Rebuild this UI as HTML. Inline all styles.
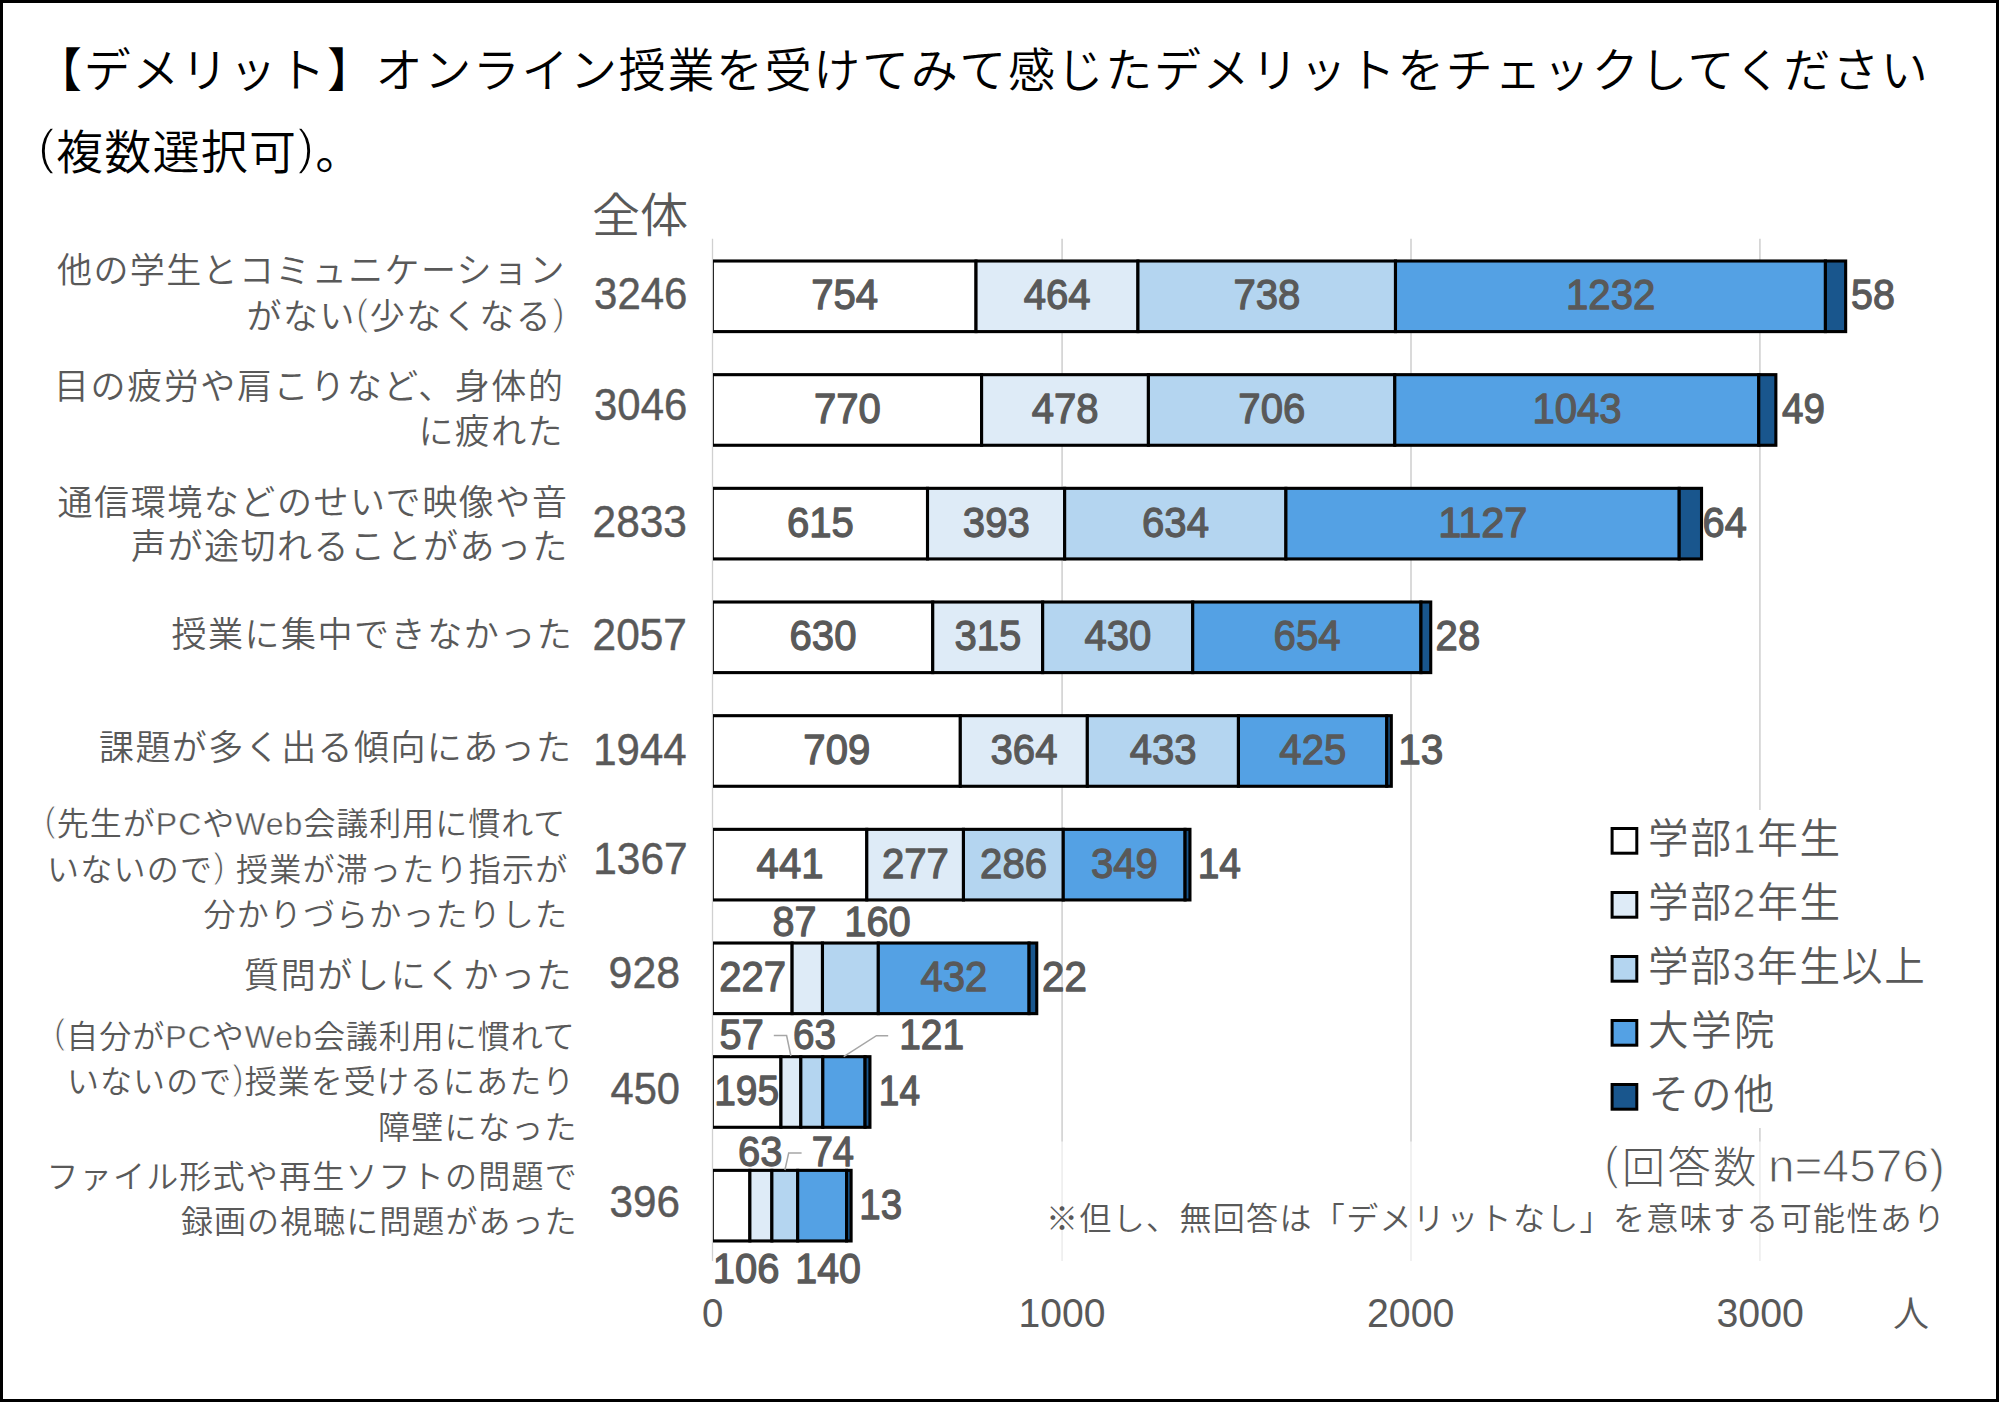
<!DOCTYPE html>
<html lang="ja"><head><meta charset="utf-8"><title>オンライン授業のデメリット</title>
<style>
html,body{margin:0;padding:0;background:#fff;overflow:hidden}
svg{display:block}
text{font-family:'Liberation Sans','Noto Sans CJK JP',sans-serif;white-space:pre}
.dl{stroke:#595959;stroke-width:1.3px;stroke-linejoin:round}
</style></head>
<body>
<svg width="1999" height="1403" viewBox="0 0 1999 1403">
<rect x="0" y="0" width="1999" height="1403" fill="#fff"/>
<rect x="1.5" y="1.5" width="1996" height="1399" fill="none" stroke="#000" stroke-width="3"/>
<g stroke="#D6D6D6" stroke-width="1.8">
<line x1="1062.1" y1="238.8" x2="1062.1" y2="1261"/>
<line x1="1411.0" y1="238.8" x2="1411.0" y2="1261"/>
<line x1="1759.9" y1="238.8" x2="1759.9" y2="1261"/>
</g>
<rect x="1600" y="810" width="340" height="318" fill="#fff"/>
<rect x="1040" y="1141.5" width="915" height="122" fill="#fff" fill-opacity="0.62"/>
<defs><clipPath id="plot"><rect x="713.1" y="230" width="1280" height="1040"/></clipPath></defs>
<line x1="712.5" y1="238.8" x2="712.5" y2="1261" stroke="#D0D0D0" stroke-width="1.3"/>
<g stroke="#000" stroke-width="3.1" stroke-linejoin="miter" clip-path="url(#plot)">
<rect x="712.30" y="261.00" width="263.72" height="70.60" fill="#FFFFFF"/>
<rect x="976.02" y="261.00" width="161.92" height="70.60" fill="#DEEBF7"/>
<rect x="1137.95" y="261.00" width="257.54" height="70.60" fill="#B4D5F0"/>
<rect x="1395.49" y="261.00" width="429.93" height="70.60" fill="#54A1E4"/>
<rect x="1825.42" y="261.00" width="20.24" height="70.60" fill="#19568D"/>
<rect x="712.30" y="374.67" width="269.31" height="70.60" fill="#FFFFFF"/>
<rect x="981.61" y="374.67" width="166.81" height="70.60" fill="#DEEBF7"/>
<rect x="1148.41" y="374.67" width="246.37" height="70.60" fill="#B4D5F0"/>
<rect x="1394.79" y="374.67" width="363.98" height="70.60" fill="#54A1E4"/>
<rect x="1758.76" y="374.67" width="17.10" height="70.60" fill="#19568D"/>
<rect x="712.30" y="488.34" width="215.22" height="70.60" fill="#FFFFFF"/>
<rect x="927.52" y="488.34" width="137.15" height="70.60" fill="#DEEBF7"/>
<rect x="1064.66" y="488.34" width="221.25" height="70.60" fill="#B4D5F0"/>
<rect x="1285.91" y="488.34" width="393.29" height="70.60" fill="#54A1E4"/>
<rect x="1679.20" y="488.34" width="22.33" height="70.60" fill="#19568D"/>
<rect x="712.30" y="602.01" width="220.45" height="70.60" fill="#FFFFFF"/>
<rect x="932.75" y="602.01" width="109.93" height="70.60" fill="#DEEBF7"/>
<rect x="1042.68" y="602.01" width="150.06" height="70.60" fill="#B4D5F0"/>
<rect x="1192.73" y="602.01" width="228.23" height="70.60" fill="#54A1E4"/>
<rect x="1420.96" y="602.01" width="9.77" height="70.60" fill="#19568D"/>
<rect x="712.30" y="715.68" width="248.02" height="70.60" fill="#FFFFFF"/>
<rect x="960.32" y="715.68" width="127.03" height="70.60" fill="#DEEBF7"/>
<rect x="1087.34" y="715.68" width="151.10" height="70.60" fill="#B4D5F0"/>
<rect x="1238.45" y="715.68" width="148.31" height="70.60" fill="#54A1E4"/>
<rect x="1386.76" y="715.68" width="4.54" height="70.60" fill="#19568D"/>
<rect x="712.30" y="829.35" width="154.50" height="70.60" fill="#FFFFFF"/>
<rect x="866.80" y="829.35" width="96.66" height="70.60" fill="#DEEBF7"/>
<rect x="963.46" y="829.35" width="99.81" height="70.60" fill="#B4D5F0"/>
<rect x="1063.27" y="829.35" width="121.79" height="70.60" fill="#54A1E4"/>
<rect x="1185.06" y="829.35" width="4.89" height="70.60" fill="#19568D"/>
<rect x="712.30" y="943.02" width="79.82" height="70.60" fill="#FFFFFF"/>
<rect x="792.12" y="943.02" width="30.36" height="70.60" fill="#DEEBF7"/>
<rect x="822.48" y="943.02" width="55.84" height="70.60" fill="#B4D5F0"/>
<rect x="878.31" y="943.02" width="150.76" height="70.60" fill="#54A1E4"/>
<rect x="1029.07" y="943.02" width="7.68" height="70.60" fill="#19568D"/>
<rect x="712.30" y="1056.69" width="68.65" height="70.60" fill="#FFFFFF"/>
<rect x="780.95" y="1056.69" width="19.89" height="70.60" fill="#DEEBF7"/>
<rect x="800.84" y="1056.69" width="21.99" height="70.60" fill="#B4D5F0"/>
<rect x="822.83" y="1056.69" width="42.23" height="70.60" fill="#54A1E4"/>
<rect x="865.05" y="1056.69" width="4.89" height="70.60" fill="#19568D"/>
<rect x="712.30" y="1170.36" width="37.59" height="70.60" fill="#FFFFFF"/>
<rect x="749.89" y="1170.36" width="21.99" height="70.60" fill="#DEEBF7"/>
<rect x="771.88" y="1170.36" width="25.82" height="70.60" fill="#B4D5F0"/>
<rect x="797.70" y="1170.36" width="48.86" height="70.60" fill="#54A1E4"/>
<rect x="846.56" y="1170.36" width="4.54" height="70.60" fill="#19568D"/>
</g>
<g stroke="#000" stroke-width="3">
<rect x="1612.1" y="828.5" width="24.7" height="24.7" fill="#FFFFFF"/>
<rect x="1612.1" y="892.5" width="24.7" height="24.7" fill="#DEEBF7"/>
<rect x="1612.1" y="956.5" width="24.7" height="24.7" fill="#B4D5F0"/>
<rect x="1612.1" y="1020.5" width="24.7" height="24.7" fill="#54A1E4"/>
<rect x="1612.1" y="1084.5" width="24.7" height="24.7" fill="#19568D"/>
</g>
<g fill="none" stroke="#A6A6A6" stroke-width="1.5">
<polyline points="773.8,1035.5 786.6,1035.5 790.9,1056"/>
<polyline points="888.2,1035.7 876.4,1035.7 843.7,1056.7"/>
<polyline points="801.6,1152.9 788.7,1152.9 784.9,1170"/>
</g>
<text id="t1" font-size="47" fill="#000" font-weight="350" x="35.00" y="86.86" textLength="1892.79" lengthAdjust="spacing">【デメリット】オンライン授業を受けてみて感じたデメリットをチェックしてください</text>
<text id="t2" font-size="47" fill="#000" font-weight="350" x="38.00" y="168.66" textLength="324.19" lengthAdjust="spacing"><tspan font-size="50.3" dy="-4.9" stroke="#fff" stroke-width="1.5">(</tspan><tspan dy="4.9">複数選択可</tspan><tspan font-size="50.3" dy="-4.9" stroke="#fff" stroke-width="1.5">)</tspan><tspan dy="4.9">。</tspan></text>
<text id="hd" font-size="47" fill="#595959" font-weight="350" x="591.95" y="232.16" textLength="96.28" lengthAdjust="spacingAndGlyphs">全体</text>
<text id="tot0" font-size="45.2" fill="#595959" stroke="#595959" stroke-width="0.45" x="594.07" y="308.59" textLength="93.35" lengthAdjust="spacingAndGlyphs">3246</text>
<text id="tot1" font-size="45.2" fill="#595959" stroke="#595959" stroke-width="0.45" x="594.07" y="420.09" textLength="93.15" lengthAdjust="spacingAndGlyphs">3046</text>
<text id="tot2" font-size="45.2" fill="#595959" stroke="#595959" stroke-width="0.45" x="592.59" y="537.09" textLength="94.39" lengthAdjust="spacingAndGlyphs">2833</text>
<text id="tot3" font-size="45.2" fill="#595959" stroke="#595959" stroke-width="0.45" x="592.59" y="650.09" textLength="94.31" lengthAdjust="spacingAndGlyphs">2057</text>
<text id="tot4" font-size="45.2" fill="#595959" stroke="#595959" stroke-width="0.45" x="593.25" y="765.09" textLength="93.41" lengthAdjust="spacingAndGlyphs">1944</text>
<text id="tot5" font-size="45.2" fill="#595959" stroke="#595959" stroke-width="0.45" x="593.22" y="874.09" textLength="94.40" lengthAdjust="spacingAndGlyphs">1367</text>
<text id="tot6" font-size="45.2" fill="#595959" stroke="#595959" stroke-width="0.45" x="608.55" y="987.59" textLength="71.51" lengthAdjust="spacingAndGlyphs">928</text>
<text id="tot7" font-size="45.2" fill="#595959" stroke="#595959" stroke-width="0.45" x="610.52" y="1104.09" textLength="69.50" lengthAdjust="spacingAndGlyphs">450</text>
<text id="tot8" font-size="45.2" fill="#595959" stroke="#595959" stroke-width="0.45" x="609.58" y="1216.59" textLength="70.45" lengthAdjust="spacingAndGlyphs">396</text>
<text id="cat0" font-size="35" fill="#595959" font-weight="350" x="57.00" y="283.00" textLength="507.40" lengthAdjust="spacing">他の学生とコミュニケーション</text>
<text id="cat1" font-size="35" fill="#595959" font-weight="350" x="246.50" y="329.00" textLength="318.14" lengthAdjust="spacing">がない<tspan font-size="37.5" dy="-3.7" stroke="#fff" stroke-width="1.12">(</tspan><tspan dy="3.7">少なくなる</tspan><tspan font-size="37.5" dy="-3.7" stroke="#fff" stroke-width="1.12">)</tspan></text>
<text id="cat2" font-size="35" fill="#595959" font-weight="350" x="54.00" y="399.30" textLength="508.94" lengthAdjust="spacing">目の疲労や肩こりなど、身体的</text>
<text id="cat3" font-size="35" fill="#595959" font-weight="350" x="418.50" y="444.30" textLength="144.02" lengthAdjust="spacing">に疲れた</text>
<text id="cat4" font-size="35" fill="#595959" font-weight="350" x="57.50" y="515.30" textLength="509.41" lengthAdjust="spacing">通信環境などのせいで映像や音</text>
<text id="cat5" font-size="35" fill="#595959" font-weight="350" x="131.00" y="559.30" textLength="436.38" lengthAdjust="spacing">声が途切れることがあった</text>
<text id="cat6" font-size="35" fill="#595959" font-weight="350" x="171.50" y="646.60" textLength="400.20" lengthAdjust="spacing">授業に集中できなかった</text>
<text id="cat7" font-size="35" fill="#595959" font-weight="350" x="99.00" y="760.30" textLength="472.13" lengthAdjust="spacing">課題が多く出る傾向にあった</text>
<text id="cat8" font-size="32" fill="#595959" font-weight="350" x="44.50" y="834.96" textLength="520.87" lengthAdjust="spacing"><tspan font-size="34.2" dy="-3.4" stroke="#fff" stroke-width="1.02">(</tspan><tspan dy="3.4">先生が</tspan><tspan stroke="#fff" stroke-width="0.35">PC</tspan>や<tspan stroke="#fff" stroke-width="0.35">Web</tspan>会議利用に慣れて</text>
<text id="cat9" font-size="32" fill="#595959" font-weight="350" x="47.00" y="881.26" textLength="520.29" lengthAdjust="spacing">いないので<tspan font-size="34.2" dy="-3.4" stroke="#fff" stroke-width="1.02">)</tspan><tspan dy="3.4"> 授業が滞ったり指示が</tspan></text>
<text id="cat10" font-size="32" fill="#595959" font-weight="350" x="203.50" y="926.46" textLength="363.46" lengthAdjust="spacing">分かりづらかったりした</text>
<text id="cat11" font-size="35" fill="#595959" font-weight="350" x="244.00" y="988.00" textLength="327.59" lengthAdjust="spacing">質問がしにくかった</text>
<text id="cat12" font-size="32" fill="#595959" font-weight="350" x="54.00" y="1047.66" textLength="520.87" lengthAdjust="spacing"><tspan font-size="34.2" dy="-3.4" stroke="#fff" stroke-width="1.02">(</tspan><tspan dy="3.4">自分が</tspan><tspan stroke="#fff" stroke-width="0.35">PC</tspan>や<tspan stroke="#fff" stroke-width="0.35">Web</tspan>会議利用に慣れて</text>
<text id="cat13" font-size="32" fill="#595959" font-weight="350" x="67.00" y="1093.46" textLength="507.21" lengthAdjust="spacing">いないので<tspan font-size="34.2" dy="-3.4" stroke="#fff" stroke-width="1.02">)</tspan><tspan dy="3.4">授業を受けるにあたり</tspan></text>
<text id="cat14" font-size="32" fill="#595959" font-weight="350" x="378.00" y="1139.16" textLength="198.50" lengthAdjust="spacing">障壁になった</text>
<text id="cat15" font-size="32" fill="#595959" font-weight="350" x="46.50" y="1188.46" textLength="530.15" lengthAdjust="spacing">ファイル形式や再生ソフトの問題で</text>
<text id="cat16" font-size="32" fill="#595959" font-weight="350" x="181.00" y="1232.76" textLength="395.58" lengthAdjust="spacing">録画の視聴に問題があった</text>
<text id="leg0" font-size="40.6" fill="#595959" font-weight="350" x="1648.00" y="853.03" textLength="192.14" lengthAdjust="spacing">学部<tspan stroke="#fff" stroke-width="0.45">1</tspan>年生</text>
<text id="leg1" font-size="40.6" fill="#595959" font-weight="350" x="1648.00" y="916.93" textLength="192.14" lengthAdjust="spacing">学部<tspan stroke="#fff" stroke-width="0.45">2</tspan>年生</text>
<text id="leg2" font-size="40.6" fill="#595959" font-weight="350" x="1648.00" y="980.93" textLength="276.78" lengthAdjust="spacing">学部<tspan stroke="#fff" stroke-width="0.45">3</tspan>年生以上</text>
<text id="leg3" font-size="40.6" fill="#595959" font-weight="350" x="1648.00" y="1044.93" textLength="126.53" lengthAdjust="spacing">大学院</text>
<text id="leg4" font-size="40.6" fill="#595959" font-weight="350" x="1648.50" y="1108.83" textLength="125.63" lengthAdjust="spacing">その他</text>
<text id="n1a" font-size="43" fill="#595959" font-weight="300" x="1604.00" y="1183.34" textLength="152.33" lengthAdjust="spacing"><tspan font-size="46.0" dy="-4.5" stroke="#fff" stroke-width="1.38">(</tspan><tspan dy="4.5">回答数</tspan></text>
<text id="n1b" font-size="47" fill="#595959" stroke="#fff" stroke-width="1.1" x="1767.92" y="1182.20" textLength="177.15" lengthAdjust="spacingAndGlyphs">n=4576)</text>
<text id="n2" font-size="32" fill="#595959" font-weight="350" x="1046.00" y="1229.66" textLength="899.12" lengthAdjust="spacing">※但し、無回答は「デメリットなし」を意味する可能性あり</text>
<text id="ax0" font-size="40" fill="#595959" x="702.04" y="1326.80" textLength="21.33" lengthAdjust="spacingAndGlyphs">0</text>
<text id="ax1" font-size="40" fill="#595959" x="1018.56" y="1326.80" textLength="86.90" lengthAdjust="spacingAndGlyphs">1000</text>
<text id="ax2" font-size="40" fill="#595959" x="1367.03" y="1326.80" textLength="87.33" lengthAdjust="spacingAndGlyphs">2000</text>
<text id="ax3" font-size="40" fill="#595959" x="1716.52" y="1326.80" textLength="87.33" lengthAdjust="spacingAndGlyphs">3000</text>
<text id="axu" font-size="36" fill="#595959" font-weight="350" x="1893.00" y="1326.68">人</text>
<text id="d0_0" font-size="43.3" fill="#595959" class="dl" x="844.66" y="308.94" text-anchor="middle" textLength="66.90" lengthAdjust="spacingAndGlyphs">754</text>
<text id="d0_1" font-size="43.3" fill="#595959" class="dl" x="1057.18" y="308.94" text-anchor="middle" textLength="66.90" lengthAdjust="spacingAndGlyphs">464</text>
<text id="d0_2" font-size="43.3" fill="#595959" class="dl" x="1266.92" y="308.94" text-anchor="middle" textLength="66.90" lengthAdjust="spacingAndGlyphs">738</text>
<text id="d0_3" font-size="43.3" fill="#595959" class="dl" x="1610.65" y="308.94" text-anchor="middle" textLength="89.20" lengthAdjust="spacingAndGlyphs">1232</text>
<text id="d0_4" font-size="43.3" fill="#595959" class="dl" x="1851.09" y="308.94" textLength="43.81" lengthAdjust="spacingAndGlyphs">58</text>
<text id="d1_0" font-size="43.3" fill="#595959" class="dl" x="847.45" y="423.29" text-anchor="middle" textLength="66.90" lengthAdjust="spacingAndGlyphs">770</text>
<text id="d1_1" font-size="43.3" fill="#595959" class="dl" x="1065.21" y="423.29" text-anchor="middle" textLength="66.90" lengthAdjust="spacingAndGlyphs">478</text>
<text id="d1_2" font-size="43.3" fill="#595959" class="dl" x="1271.80" y="423.29" text-anchor="middle" textLength="66.90" lengthAdjust="spacingAndGlyphs">706</text>
<text id="d1_3" font-size="43.3" fill="#595959" class="dl" x="1576.98" y="423.29" text-anchor="middle" textLength="89.20" lengthAdjust="spacingAndGlyphs">1043</text>
<text id="d1_4" font-size="43.3" fill="#595959" class="dl" x="1782.00" y="423.29" textLength="42.85" lengthAdjust="spacingAndGlyphs">49</text>
<text id="d2_0" font-size="43.3" fill="#595959" class="dl" x="820.41" y="536.64" text-anchor="middle" textLength="66.90" lengthAdjust="spacingAndGlyphs">615</text>
<text id="d2_1" font-size="43.3" fill="#595959" class="dl" x="996.29" y="536.64" text-anchor="middle" textLength="66.90" lengthAdjust="spacingAndGlyphs">393</text>
<text id="d2_2" font-size="43.3" fill="#595959" class="dl" x="1175.49" y="536.64" text-anchor="middle" textLength="66.90" lengthAdjust="spacingAndGlyphs">634</text>
<text id="d2_3" font-size="43.3" fill="#595959" class="dl" x="1482.75" y="536.64" text-anchor="middle" textLength="89.20" lengthAdjust="spacingAndGlyphs">1127</text>
<text id="d2_4" font-size="43.3" fill="#595959" class="dl" x="1702.61" y="536.64" textLength="44.20" lengthAdjust="spacingAndGlyphs">64</text>
<text id="d3_0" font-size="43.3" fill="#595959" class="dl" x="823.03" y="649.99" text-anchor="middle" textLength="66.90" lengthAdjust="spacingAndGlyphs">630</text>
<text id="d3_1" font-size="43.3" fill="#595959" class="dl" x="987.91" y="649.99" text-anchor="middle" textLength="66.90" lengthAdjust="spacingAndGlyphs">315</text>
<text id="d3_2" font-size="43.3" fill="#595959" class="dl" x="1117.91" y="649.99" text-anchor="middle" textLength="66.90" lengthAdjust="spacingAndGlyphs">430</text>
<text id="d3_3" font-size="43.3" fill="#595959" class="dl" x="1307.05" y="649.99" text-anchor="middle" textLength="66.90" lengthAdjust="spacingAndGlyphs">654</text>
<text id="d3_4" font-size="43.3" fill="#595959" class="dl" x="1435.62" y="649.99" textLength="44.57" lengthAdjust="spacingAndGlyphs">28</text>
<text id="d4_0" font-size="43.3" fill="#595959" class="dl" x="836.81" y="764.34" text-anchor="middle" textLength="66.90" lengthAdjust="spacingAndGlyphs">709</text>
<text id="d4_1" font-size="43.3" fill="#595959" class="dl" x="1024.03" y="764.34" text-anchor="middle" textLength="66.90" lengthAdjust="spacingAndGlyphs">364</text>
<text id="d4_2" font-size="43.3" fill="#595959" class="dl" x="1163.10" y="764.34" text-anchor="middle" textLength="66.90" lengthAdjust="spacingAndGlyphs">433</text>
<text id="d4_3" font-size="43.3" fill="#595959" class="dl" x="1312.80" y="764.34" text-anchor="middle" textLength="66.90" lengthAdjust="spacingAndGlyphs">425</text>
<text id="d4_4" font-size="43.3" fill="#595959" class="dl" x="1398.17" y="764.34" textLength="45.14" lengthAdjust="spacingAndGlyphs">13</text>
<text id="d5_0" font-size="43.3" fill="#595959" class="dl" x="790.05" y="877.69" text-anchor="middle" textLength="66.90" lengthAdjust="spacingAndGlyphs">441</text>
<text id="d5_1" font-size="43.3" fill="#595959" class="dl" x="915.33" y="877.69" text-anchor="middle" textLength="66.90" lengthAdjust="spacingAndGlyphs">277</text>
<text id="d5_2" font-size="43.3" fill="#595959" class="dl" x="1013.56" y="877.69" text-anchor="middle" textLength="66.90" lengthAdjust="spacingAndGlyphs">286</text>
<text id="d5_3" font-size="43.3" fill="#595959" class="dl" x="1124.36" y="877.69" text-anchor="middle" textLength="66.90" lengthAdjust="spacingAndGlyphs">349</text>
<text id="d5_4" font-size="43.3" fill="#595959" class="dl" x="1197.74" y="877.69" textLength="43.26" lengthAdjust="spacingAndGlyphs">14</text>
<text id="d6_0" font-size="43.3" fill="#595959" class="dl" x="752.71" y="991.04" text-anchor="middle" textLength="66.90" lengthAdjust="spacingAndGlyphs">227</text>
<text id="d6_1" font-size="43.3" fill="#595959" class="dl" x="772.62" y="936.44" textLength="43.90" lengthAdjust="spacingAndGlyphs">87</text>
<text id="d6_2" font-size="43.3" fill="#595959" class="dl" x="844.22" y="936.44" textLength="66.54" lengthAdjust="spacingAndGlyphs">160</text>
<text id="d6_3" font-size="43.3" fill="#595959" class="dl" x="953.89" y="991.04" text-anchor="middle" textLength="66.90" lengthAdjust="spacingAndGlyphs">432</text>
<text id="d6_4" font-size="43.3" fill="#595959" class="dl" x="1042.07" y="991.04" textLength="44.83" lengthAdjust="spacingAndGlyphs">22</text>
<text id="d7_0" font-size="43.3" fill="#595959" class="dl" x="714.20" y="1105.44" textLength="64.92" lengthAdjust="spacingAndGlyphs">195</text>
<text id="d7_1" font-size="43.3" fill="#595959" class="dl" x="719.59" y="1048.94" textLength="44.14" lengthAdjust="spacingAndGlyphs">57</text>
<text id="d7_2" font-size="43.3" fill="#595959" class="dl" x="793.11" y="1048.94" textLength="42.94" lengthAdjust="spacingAndGlyphs">63</text>
<text id="d7_3" font-size="43.3" fill="#595959" class="dl" x="899.20" y="1048.94" textLength="64.92" lengthAdjust="spacingAndGlyphs">121</text>
<text id="d7_4" font-size="43.3" fill="#595959" class="dl" x="878.83" y="1105.39" textLength="41.12" lengthAdjust="spacingAndGlyphs">14</text>
<text id="d8_0" font-size="43.3" fill="#595959" class="dl" x="712.70" y="1282.94" textLength="66.73" lengthAdjust="spacingAndGlyphs">106</text>
<text id="d8_1" font-size="43.3" fill="#595959" class="dl" x="738.10" y="1166.44" textLength="44.42" lengthAdjust="spacingAndGlyphs">63</text>
<text id="d8_2" font-size="43.3" fill="#595959" class="dl" x="811.63" y="1166.44" textLength="42.43" lengthAdjust="spacingAndGlyphs">74</text>
<text id="d8_3" font-size="43.3" fill="#595959" class="dl" x="795.25" y="1282.94" textLength="65.67" lengthAdjust="spacingAndGlyphs">140</text>
<text id="d8_4" font-size="43.3" fill="#595959" class="dl" x="859.27" y="1218.74" textLength="42.75" lengthAdjust="spacingAndGlyphs">13</text>
</svg>
</body></html>
